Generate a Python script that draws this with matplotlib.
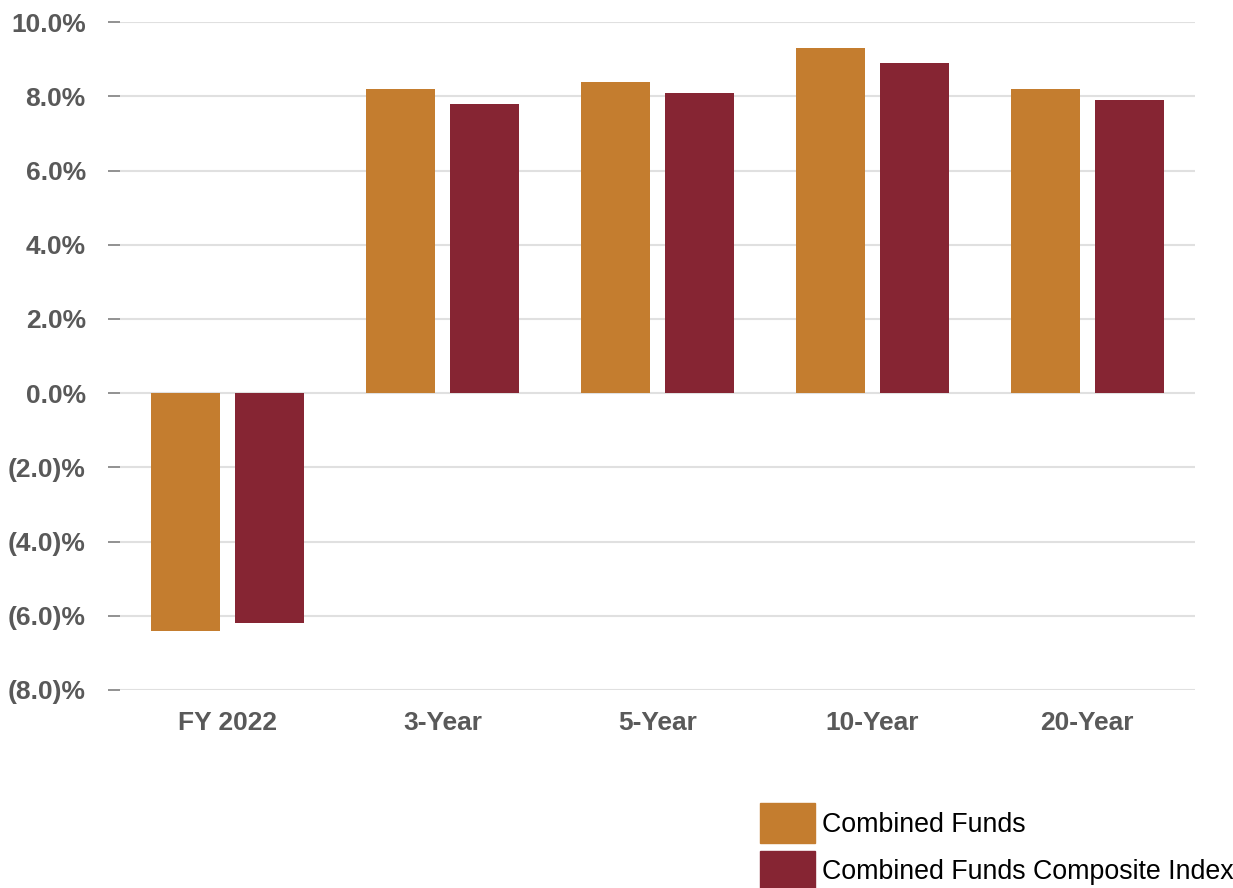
import numpy as np
import matplotlib
matplotlib.use("Agg")
from matplotlib import pyplot as plt
from matplotlib.patches import Patch
from matplotlib.ticker import FuncFormatter

categories = ["FY 2022", "3-Year", "5-Year", "10-Year", "20-Year"]
combined_funds = [-6.4, 8.2, 8.4, 9.3, 8.2]
composite_index = [-6.2, 7.8, 8.1, 8.9, 7.9]
series_names = ["Combined Funds", "Combined Funds Composite Index"]
colors = ["#C47D2F", "#862533"]

plt.rcParams['font.family'] = ['Liberation Sans', 'DejaVu Sans']

fig = plt.figure(figsize=(12.33, 8.88), dpi=100)
ax = fig.add_axes([0.0973, 0.223, 0.8717, 0.752])

x = np.arange(len(categories))
w = 0.32
off = 0.195
ax.bar(x - off, combined_funds, w, color=colors[0], zorder=3)
ax.bar(x + off, composite_index, w, color=colors[1], zorder=3)

ax.set_xlim(-0.5, len(categories) - 0.5)
ax.set_ylim(-8, 10)
ax.set_yticks(np.arange(-8, 11, 2))

def pct(v, pos):
    if v < 0:
        return "(%.1f)%%" % abs(v)
    return "%.1f%%" % v

ax.yaxis.set_major_formatter(FuncFormatter(pct))
ax.set_xticks(x)
ax.set_xticklabels(categories)

ax.grid(axis='y', color='#e0e0e0', linewidth=1.5, zorder=0)
for s in ax.spines.values():
    s.set_visible(False)

ax.tick_params(axis='y', length=8.6, width=1.2, color='#7f7f7f', pad=16,
               labelsize=19, labelcolor='#595959')
ax.tick_params(axis='x', length=0, pad=15, labelsize=19, labelcolor='#595959')
for lab in ax.get_yticklabels() + ax.get_xticklabels():
    lab.set_fontweight('bold')

handles = [Patch(color=c) for c in colors]
fig.legend(handles, series_names, loc='lower left', bbox_to_anchor=(760 / 1233, -0.003),
           frameon=False, fontsize=19.3, handlelength=2.05, handleheight=1.9,
           labelspacing=0.3, handletextpad=0.28, borderpad=0, borderaxespad=0)

fig.savefig("out.png", dpi=100)
